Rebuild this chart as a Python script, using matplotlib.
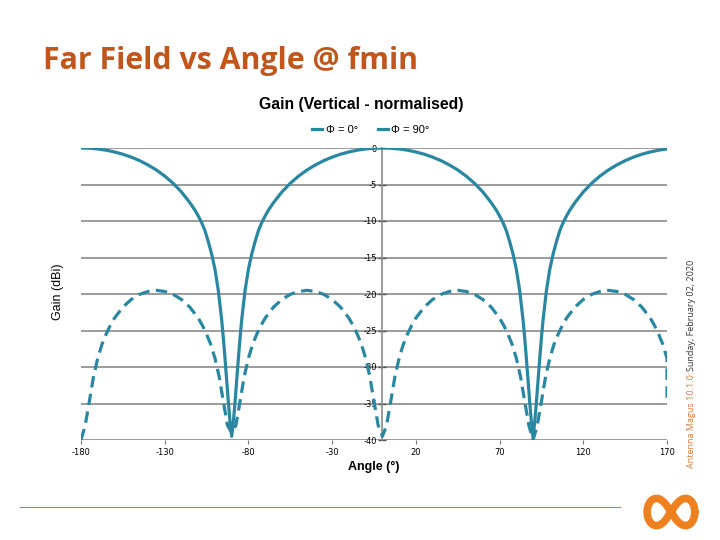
import numpy as np
import matplotlib
matplotlib.use('Agg')
import matplotlib.pyplot as plt
from matplotlib.lines import Line2D

# data (angles in degrees, gain in dBi, normalised)
ang_phi0 = [-180, -175, -170, -165, -160, -155, -150, -145, -140, -135, -130,
            -125, -120, -115, -112, -110, -108, -106, -104, -102, -100, -98,
            -96, -95, -94, -93, -92, -91, -90,
            -89, -88, -87, -86, -85, -84, -82, -80, -78, -76, -74, -72, -70,
            -68, -65, -60, -55, -50, -45, -40, -35, -30, -25, -20, -15, -10,
            -5, 0, 5, 10, 15, 20, 25, 30, 35, 40, 45, 50, 55, 60, 65, 68, 70,
            72, 74, 76, 78, 80, 82, 84, 85, 86, 87, 88, 89, 90,
            91, 92, 93, 94, 95, 96, 98, 100, 102, 104, 106, 108, 110, 112,
            115, 120, 125, 130, 135, 140, 145, 150, 155, 160, 165, 170]
gain_phi0 = [0.0, -0.03, -0.13, -0.30, -0.54, -0.85, -1.25, -1.73, -2.32,
             -3.01, -3.84, -4.83, -6.02, -7.48, -8.5, -9.3, -10.2, -11.3,
             -12.8, -14.5, -16.6, -19.5, -23.5, -26.0, -28.8, -31.8, -34.8,
             -37.5, -39.5,
             -37.5, -34.8, -31.8, -28.8, -26.0, -23.5, -19.5, -16.6, -14.5,
             -12.8, -11.3, -10.2, -9.3, -8.5, -7.48, -6.02, -4.83, -3.84,
             -3.01, -2.32, -1.73, -1.25, -0.85, -0.54, -0.30, -0.13, -0.03,
             0.0, -0.03, -0.13, -0.30, -0.54, -0.85, -1.25, -1.73, -2.32,
             -3.01, -3.84, -4.83, -6.02, -7.48, -8.5, -9.3, -10.2, -11.3,
             -12.8, -14.5, -16.6, -19.5, -23.5, -26.0, -28.8, -31.8, -34.8,
             -37.5, -39.8,
             -37.5, -34.8, -31.8, -28.8, -26.0, -23.5, -19.5, -16.6, -14.5,
             -12.8, -11.3, -10.2, -9.3, -8.5, -7.48, -6.02, -4.83, -3.84,
             -3.01, -2.32, -1.73, -1.25, -0.85, -0.54, -0.30, -0.13]

ang_phi90 = [-180, -177.5, -175, -172.5, -170, -167.5, -165, -162.5, -160,
             -155, -150, -145, -140, -135, -130, -125, -120, -115, -110,
             -107.5, -105, -102.5, -100, -97.5, -95, -92.5,
             -90, -87.5, -85, -82.5, -80, -77.5, -75, -72.5, -70, -65, -60,
             -55, -50, -45, -40, -35, -30, -25, -20, -17.5, -15, -12.5, -10,
             -7.5, -5, -2.5,
             0, 2.5, 5, 7.5, 10, 12.5, 15, 17.5, 20, 25, 30, 35, 40, 45, 50,
             55, 60, 65, 70, 72.5, 75, 77.5, 80, 82.5, 85, 87.5,
             90, 92.5, 95, 97.5, 100, 102.5, 105, 107.5, 110, 115, 120, 125,
             130, 135, 140, 145, 150, 155, 160, 162.5, 165, 167.5, 170, 170]
gain_phi90 = [-40.0, -38.0, -34.7, -31.3, -28.8, -26.9, -25.5, -24.3, -23.3,
              -21.8, -20.75, -20.05, -19.65, -19.5, -19.65, -20.05, -20.75,
              -21.8, -23.3, -24.3, -25.5, -26.9, -28.8, -31.3, -34.7, -38.0,
              -39.0, -38.0, -34.7, -31.3, -28.8, -26.9, -25.5, -24.3, -23.3,
              -21.8, -20.75, -20.05, -19.65, -19.5, -19.65, -20.05, -20.75,
              -21.8, -23.3, -24.3, -25.5, -26.9, -28.8, -31.3, -34.7, -38.0,
              -39.5, -38.0, -34.7, -31.3, -28.8, -26.9, -25.5, -24.3, -23.3,
              -21.8, -20.75, -20.05, -19.65, -19.5, -19.65, -20.05, -20.75,
              -21.8, -23.3, -24.3, -25.5, -26.9, -28.8, -31.3, -34.7, -38.0,
              -40.0, -38.0, -34.7, -31.3, -28.8, -26.9, -25.5, -24.3, -23.3,
              -21.8, -20.75, -20.05, -19.65, -19.5, -19.65, -20.05, -20.75,
              -21.8, -23.3, -24.3, -25.5, -26.9, -28.8, -34.3]

xticks = [-180, -130, -80, -30, 20, 70, 120, 170]
yticks = [0, -5, -10, -15, -20, -25, -30, -35, -40]
series_names = ['Φ = 0°', 'Φ = 90°']

line_col = '#2a87a2'
orange = '#c0561b'

fig = plt.figure(figsize=(7.2, 5.4), dpi=100)
fig.patch.set_facecolor('white')

# slide title
fig.text(43/720, 1-61/540, 'Far Field vs Angle @ fmin', family='Open Sans',
         weight='bold', fontsize=21.8, color=orange, va='center', ha='left')

ax = fig.add_axes([81/720, 1-440/540, 586/720, 292/540])
for yv in yticks:
    ax.axhline(yv, color='#8a8a8a', lw=1.2, zorder=1)

ax.plot(ang_phi0, gain_phi0, color=line_col, lw=2.3, zorder=4,
        solid_capstyle='round', solid_joinstyle='round')
ax.plot(ang_phi90, gain_phi90, color=line_col, lw=2.3, zorder=3,
        linestyle=(0, (3.6, 2.0)))

ax.set_xlim(-180, 170)
ax.set_ylim(-40, 0)
for s in ['top', 'right', 'bottom']:
    ax.spines[s].set_visible(False)
ax.spines['left'].set_position(('data', 0))
ax.spines['left'].set_color('#8a8a8a')
ax.spines['left'].set_linewidth(1.2)
ax.set_yticks(yticks)
ax.set_yticklabels([str(v) for v in yticks])
ax.tick_params(axis='y', direction='inout', length=6, width=1,
               color='#555555', labelsize=6, pad=1)
ax.set_xticks(xticks)
ax.set_xticklabels([str(v) for v in xticks])
ax.tick_params(axis='x', direction='out', length=3, width=0.8,
               color='#777777', labelsize=6, pad=3)
ax.set_facecolor('none')

fig.text(374/720, 1-467/540, 'Angle (°)', family='Liberation Sans',
         weight='bold', fontsize=9, ha='center', va='center')
fig.text(58/720, 1-292/540, 'Gain (dBi)', family='Liberation Sans',
         fontsize=9, rotation=90, ha='center', va='center')
fig.text(361/720, 1-104/540, 'Gain (Vertical - normalised)',
         family='Liberation Sans', weight='bold', fontsize=11.3,
         ha='center', va='center')

handles = [Line2D([], [], color=line_col, lw=2.3),
           Line2D([], [], color=line_col, lw=2.3)]
fig.legend(handles, series_names, loc='center', ncol=2,
           bbox_to_anchor=(371/720, 1-130/540), frameon=False,
           prop={'family': 'Liberation Sans', 'size': 8}, handlelength=0.9,
           handletextpad=0.3, columnspacing=1.8)

# footer text, rotated, two colours
t1 = fig.text(692/720, 1-468/540, 'Antenna Magus 10.1.0:', family='Open Sans',
              fontsize=6.5, color='#d9793a', rotation=90, ha='center',
              va='bottom')
r = fig.canvas.get_renderer()
bb = t1.get_window_extent(renderer=r)
fig.text(692/720, bb.y1/540 + 1/540, 'Sunday, February 02, 2020',
         family='Open Sans', fontsize=6.5, color='#333333', rotation=90,
         ha='center', va='bottom')

# bottom rule and logo
fig.add_artist(Line2D([20/720, 620/720], [1-507/540, 1-507/540],
                      color='#d9793a', lw=0.8))
lax = fig.add_axes([640/720, 1-530/540, 62/720, 36/540])
lax.set_xlim(-1.3, 1.3)
lax.set_ylim(-0.75, 0.75)
lax.axis('off')
t = np.linspace(0, 2*np.pi, 200)
lx = np.cos(t) / (1 + np.sin(t)**2)
ly = np.sin(t) * np.cos(t) / (1 + np.sin(t)**2) * 1.6
lax.plot(lx, ly, color='#ee8020', lw=5.5, solid_capstyle='round')

fig.savefig('out.png', dpi=100)
